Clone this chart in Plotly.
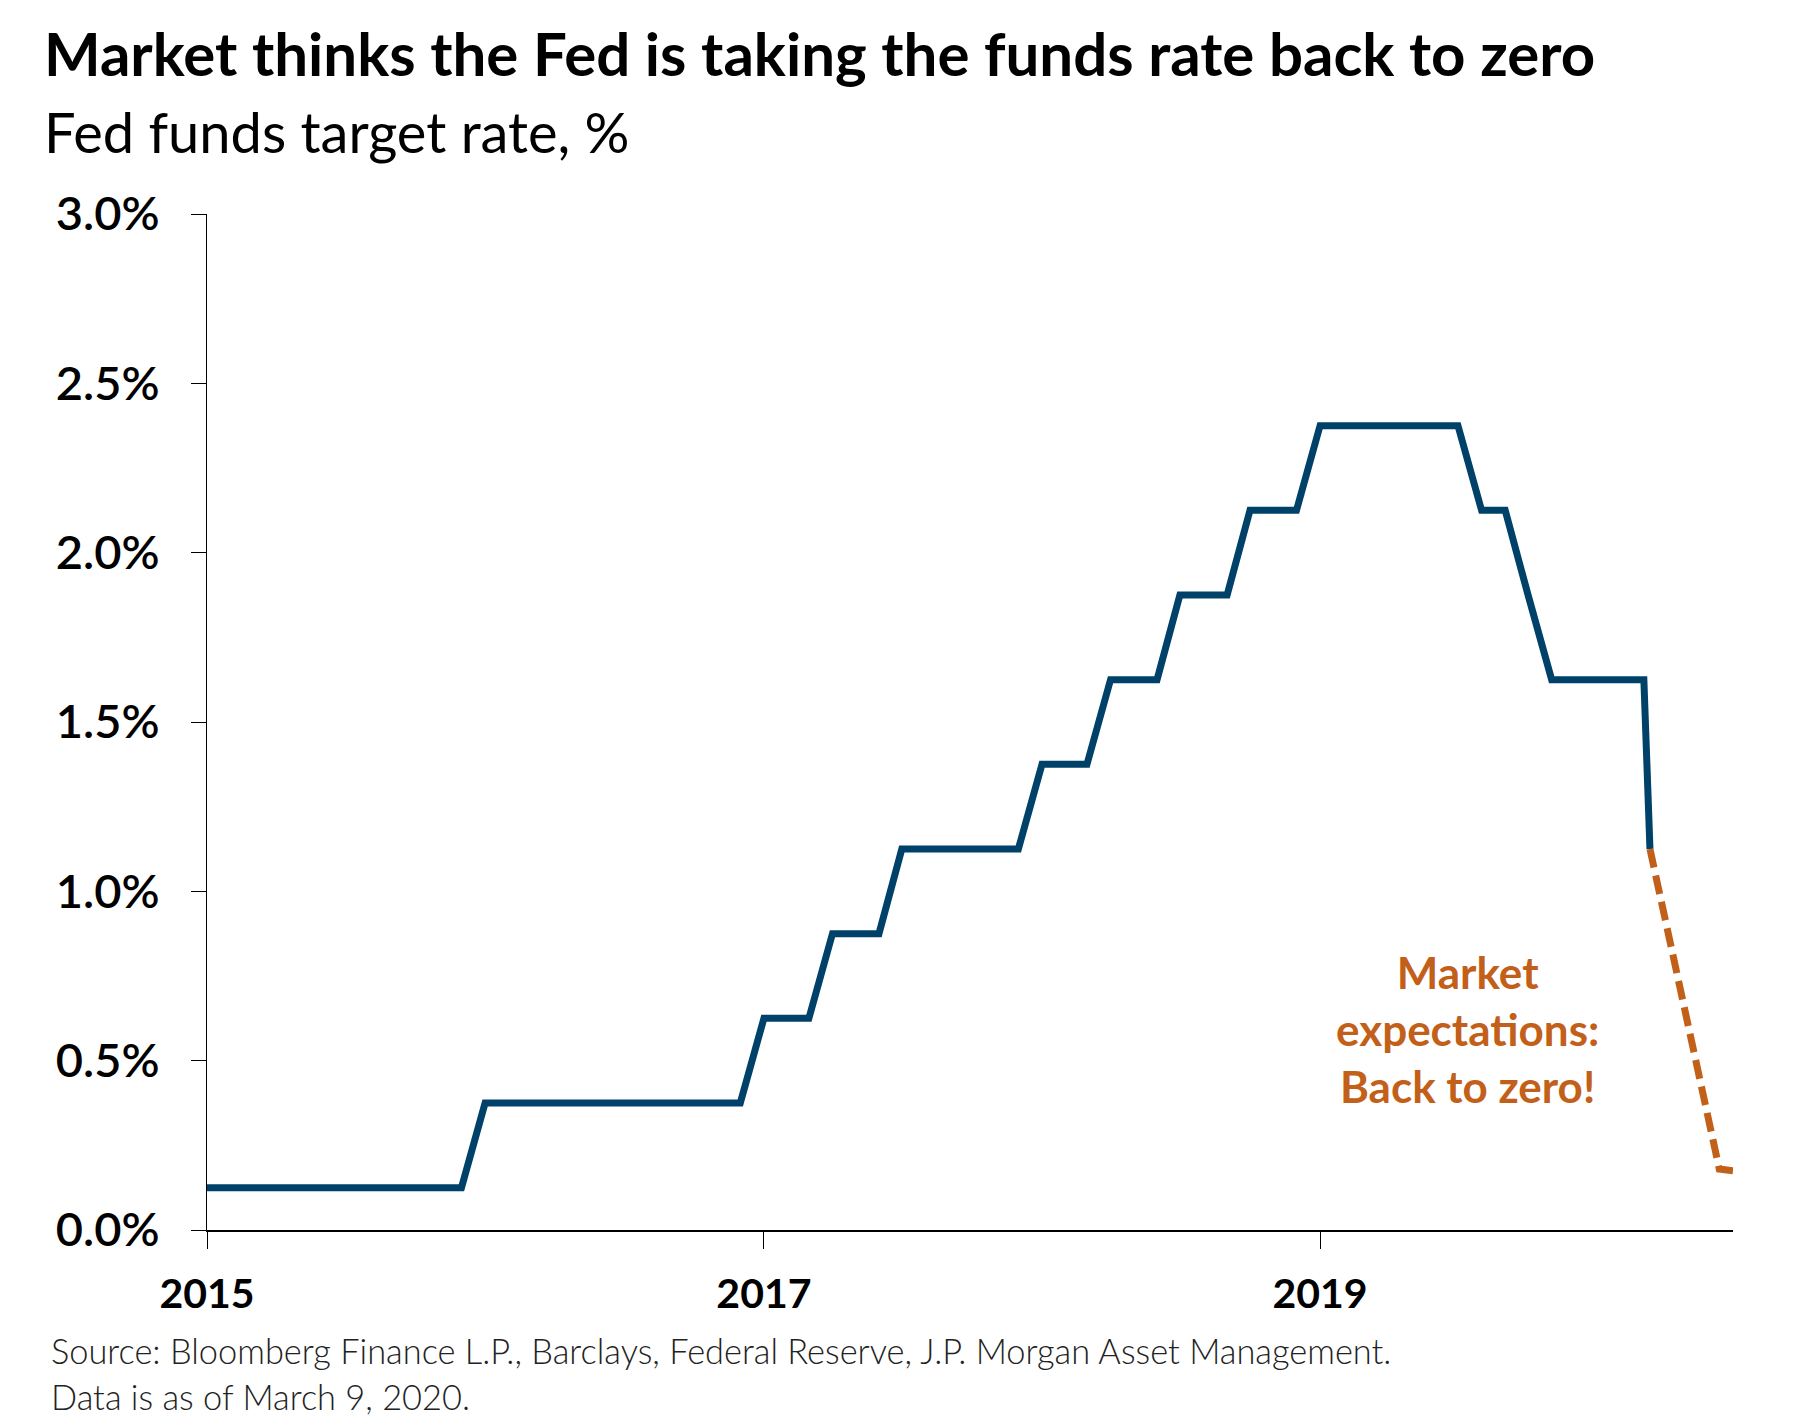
import plotly.graph_objects as go

# Fed funds target rate (midpoint of range), %, corner points of the monthly series
actual_dates = [
    "2015-01-01", "2015-12-01", "2016-01-01", "2016-12-01", "2017-01-01",
    "2017-03-01", "2017-04-01", "2017-06-01", "2017-07-01", "2017-12-01",
    "2018-01-01", "2018-03-01", "2018-04-01", "2018-06-01", "2018-07-01",
    "2018-09-01", "2018-10-01", "2018-12-01", "2019-01-01", "2019-07-01",
    "2019-08-01", "2019-09-01", "2019-10-01", "2019-11-01", "2020-03-01",
    "2020-03-09",
]
actual_rates = [
    0.125, 0.125, 0.375, 0.375, 0.625,
    0.625, 0.875, 0.875, 1.125, 1.125,
    1.375, 1.375, 1.625, 1.625, 1.875,
    1.875, 2.125, 2.125, 2.375, 2.375,
    2.125, 2.125, 1.875, 1.625, 1.625,
    1.125,
]

# Market expectations
expected_dates = ["2020-03-09", "2020-06-08", "2020-06-26"]
expected_rates = [1.125, 0.18, 0.175]

x_tick_vals = ["2015-01-01", "2017-01-01", "2019-01-01"]
x_tick_text = ["2015", "2017", "2019"]
y_tick_vals = [0, 0.5, 1.0, 1.5, 2.0, 2.5, 3.0]
y_tick_text = ["0.0%", "0.5%", "1.0%", "1.5%", "2.0%", "2.5%", "3.0%"]

NAVY = "#00416A"
ORANGE = "#C2601A"
FONT = "Lato, Roboto, sans-serif"

fig = go.Figure()
fig.add_trace(go.Scatter(
    x=actual_dates, y=actual_rates, mode="lines",
    line=dict(color=NAVY, width=7), hoverinfo="skip",
))
fig.add_trace(go.Scatter(
    x=expected_dates, y=expected_rates, mode="lines",
    line=dict(color=ORANGE, width=7, dash="19px,8px"), hoverinfo="skip",
))

fig.update_layout(
    width=1800, height=1423,
    margin=dict(l=199, r=75, t=206, b=201),
    paper_bgcolor="white", plot_bgcolor="white",
    showlegend=False,
    font=dict(family=FONT, color="black"),
    xaxis=dict(
        type="date", range=["2015-01-01", "2020-06-26"],
        tickvals=x_tick_vals, ticktext=x_tick_text,
        ticks="outside", ticklen=17, tickwidth=1, tickcolor="black",
        showline=True, linecolor="black", linewidth=1.6,
        showgrid=False, zeroline=False,
        tickfont=dict(family=FONT, size=41, color="black", weight=700),
        ticklabelstandoff=10,
    ),
    yaxis=dict(
        range=[0, 3.0],
        tickvals=y_tick_vals, ticktext=y_tick_text,
        ticks="outside", ticklen=15, tickwidth=1, tickcolor="black",
        showline=True, linecolor="black", linewidth=1,
        showgrid=False, zeroline=False,
        tickfont=dict(family=FONT, size=47, color="black", weight=600),
        ticklabelstandoff=22,
    ),
)

annotations = [
    dict(text="Market thinks the Fed is taking the funds rate back to zero",
         x=-0.1078, y=1.158, xanchor="left", yanchor="middle",
         font=dict(family=FONT, size=60, color="black", weight=700)),
    dict(text="Fed funds target rate, %",
         x=-0.1078, y=1.081, xanchor="left", yanchor="middle",
         font=dict(family=FONT, size=56, color="black", weight=400)),
    dict(text="Source: Bloomberg Finance L.P., Barclays, Federal Reserve, J.P. Morgan Asset Management.",
         x=-0.1033, y=-0.1183, xanchor="left", yanchor="middle",
         font=dict(family=FONT, size=34.4, color="#222222", weight=300)),
    dict(text="Data is as of March 9, 2020.",
         x=-0.1033, y=-0.1635, xanchor="left", yanchor="middle",
         font=dict(family=FONT, size=34.4, color="#222222", weight=300)),
    dict(text="Market<br>expectations:<br>Back to zero!",
         x=0.8263, y=0.198, xanchor="center", yanchor="middle", align="center",
         font=dict(family=FONT, size=44, color=ORANGE, weight=700)),
]
for a in annotations:
    a.update(xref="paper", yref="paper", showarrow=False)
    fig.add_annotation(**a)

fig.write_html("out.html")
